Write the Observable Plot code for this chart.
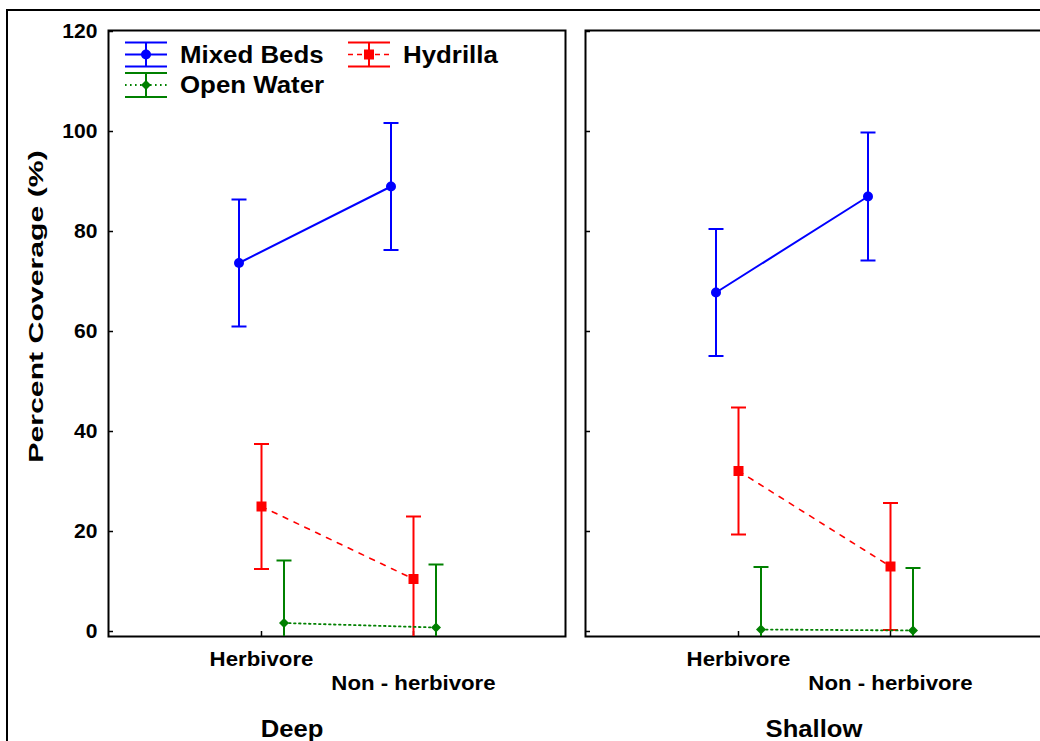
<!DOCTYPE html>
<html><head><meta charset="utf-8">
<script src="https://cdn.jsdelivr.net/npm/d3@7"></script>
<script src="https://cdn.jsdelivr.net/npm/@observablehq/plot@0.6"></script>
<style>
html,body{margin:0;padding:0;background:#fff;}
#wrap{position:relative;width:1040px;height:741px;overflow:hidden;background:#fff;font-family:"Liberation Sans",Arial,sans-serif;}
#chart{position:absolute;left:0;top:0;width:1048px;}
#chart svg{max-width:none !important;}
#legend{position:absolute;left:0;top:0;pointer-events:none;}
#outer{position:absolute;left:6px;top:9px;width:1200px;height:900px;border:2px solid #000;box-sizing:border-box;pointer-events:none;}
</style></head><body>
<div id="wrap"><div id="chart"></div><svg id="legend" width="1040" height="741"></svg><div id="outer"></div></div>
<script>
// ---- data ----
const panels = ["Deep", "Shallow"];
const categories = ["Herbivore", "Non - herbivore"];
const seriesNames = ["Mixed Beds", "Hydrilla", "Open Water"];
const seriesColors = ["#0000ff", "#ff0000", "#008000"];
// order of values: Deep-Herbivore, Deep-Non-herbivore, Shallow-Herbivore, Shallow-Non-herbivore
const mixedBedsMean = [73.7, 89.0, 67.8, 87.0];
const mixedBedsSE   = [12.7, 12.7, 12.7, 12.8];
const hydrillaMean  = [25.0, 10.5, 32.1, 13.0];
const hydrillaSE    = [12.5, 12.5, 12.7, 12.7];
const openWaterMean = [1.7, 0.8, 0.4, 0.2];
const openWaterSE   = [12.5, 12.6, 12.5, 12.5];
const yTicks = [0, 20, 40, 60, 80, 100, 120];
const yLabel = "Percent Coverage (%)";

const means = [mixedBedsMean, hydrillaMean, openWaterMean];
const ses = [mixedBedsSE, hydrillaSE, openWaterSE];

const rows = [];
seriesNames.forEach((s, si) => {
  panels.forEach((p, pi) => categories.forEach((c, ci) => {
    const k = pi * 2 + ci;
    rows.push({series: s, panel: p, cat: c, mean: means[si][k], lo: means[si][k] - ses[si][k], hi: means[si][k] + ses[si][k]});
  }));
});

// ---- symbols ----
const capSym = {draw(ctx, size) { const w = Math.sqrt(size / Math.PI); ctx.moveTo(-w, 0); ctx.lineTo(w, 0); }};
const circleSym = {draw(ctx, size) { const h = Math.sqrt(size / Math.PI); ctx.moveTo(h, 0); ctx.arc(0, 0, h, 0, 2 * Math.PI); }};
const squareSym = {draw(ctx, size) { const h = Math.sqrt(size / Math.PI); ctx.rect(-h, -h, 2 * h, 2 * h); }};
const diamondSym = {draw(ctx, size) { const h = Math.sqrt(size / Math.PI); ctx.moveTo(0, -h); ctx.lineTo(h, 0); ctx.lineTo(0, h); ctx.lineTo(-h, 0); ctx.closePath(); }};

const styles = [
  {dx: -22.5, dash: null, lineWidth: 2, symbol: circleSym, r: 5, legendDash: null},
  {dx: 0, dash: "5,7", lineWidth: 1.6, symbol: squareSym, r: 5, legendDash: "5,4"},
  {dx: 22.5, dash: "1.6,3.4", lineWidth: 1.8, symbol: diamondSym, r: 5, legendDash: "1.6,3.4"}
];

const seriesMarks = [];
seriesNames.forEach((s, si) => {
  const d = rows.filter(r => r.series === s);
  const st = styles[si], col = seriesColors[si];
  seriesMarks.push(
    Plot.line(d, {fx: "panel", x: "cat", y: "mean", stroke: col, strokeWidth: st.lineWidth, strokeDasharray: st.dash, dx: st.dx}),
    Plot.ruleX(d, {fx: "panel", x: "cat", y1: "lo", y2: "hi", stroke: col, strokeWidth: 2, dx: st.dx, clip: true}),
    Plot.dot(d, {fx: "panel", x: "cat", y: "hi", symbol: capSym, r: 7.5, stroke: col, fill: "none", strokeWidth: 2, dx: st.dx, clip: true}),
    Plot.dot(d, {fx: "panel", x: "cat", y: "lo", symbol: capSym, r: 7.5, stroke: col, fill: "none", strokeWidth: 2, dx: st.dx, clip: true}),
    Plot.dot(d, {fx: "panel", x: "cat", y: "mean", symbol: st.symbol, r: st.r, fill: col, stroke: "none", dx: st.dx})
  );
});

const plot = Plot.plot({
  width: 1048, height: 741,
  marginLeft: 108, marginRight: 6, marginTop: 30, marginBottom: 105,
  style: {fontFamily: '"Liberation Sans", Arial, sans-serif', fontWeight: "bold", fontSize: "19.5px", color: "#000", background: "transparent", overflow: "visible", maxWidth: "none"},
  fx: {domain: panels, paddingInner: 20 / 477, paddingOuter: 0, round: false, axis: null},
  x: {domain: categories, type: "point", padding: 1},
  y: {domain: [0, 120], insetBottom: 5, insetTop: 1},
  marks: [
    Plot.frame({stroke: "#000", strokeWidth: 2}),
    Plot.axisY(yTicks, {tickSize: -5, fill: null, facetAnchor: null, strokeWidth: 1.5}),
    Plot.axisY(yTicks, {tickSize: 0, tickPadding: 11, label: null, fontSize: 19.5}),
    Plot.axisX(categories, {tickSize: -5, fill: null, strokeWidth: 1.5}),
    Plot.axisX([categories[0]], {tickSize: 0, tickPadding: 16, label: null, fontSize: 19.5}),
    Plot.axisX([categories[1]], {tickSize: 0, tickPadding: 40, label: null, fontSize: 19.5}),
    Plot.text([panels[0]], {fx: d => d, text: d => d, frameAnchor: "bottom", textAnchor: "middle", lineAnchor: "bottom", dy: 100, dx: -45, fontSize: 23.5}),
    Plot.text([panels[1]], {fx: d => d, text: d => d, frameAnchor: "bottom", textAnchor: "middle", lineAnchor: "bottom", dy: 100, fontSize: 23.5}),
    Plot.text([yLabel], {frameAnchor: "left", textAnchor: "middle", lineAnchor: "middle", rotate: -90, dx: -72, dy: -27, facetAnchor: "left", fontSize: 19.5}),
    ...seriesMarks
  ]
});
document.getElementById("chart").appendChild(plot);

function stretchEl(t, f) {
  const L = t.getComputedTextLength();
  if (L > 0) { t.setAttribute("textLength", L * f); t.setAttribute("lengthAdjust", "spacingAndGlyphs"); }
}
plot.querySelectorAll('g[aria-label="y-axis tick label"] text').forEach(t => stretchEl(t, 1.08));
plot.querySelectorAll('g[aria-label="x-axis tick label"] text').forEach(t => stretchEl(t, 1.14));
plot.querySelectorAll('g[aria-label="text"] text').forEach(t => {
  const s = t.textContent;
  if (s === yLabel) stretchEl(t, 1.55);
  else if (panels.includes(s)) stretchEl(t, 1.09);
});

// ---- legend ----
const legendPos = [[125, 42.5], [348, 42.5], [125, 73]];
const lg = d3.select("#legend");
seriesNames.forEach((name, i) => {
  const col = seriesColors[i], st = styles[i];
  const g = lg.append("g").attr("transform", `translate(${legendPos[i][0]},${legendPos[i][1]})`);
  const w = 42, h = 24;
  g.append("line").attr("x1", 0).attr("x2", w).attr("y1", 0).attr("y2", 0).attr("stroke", col).attr("stroke-width", 2);
  g.append("line").attr("x1", 0).attr("x2", w).attr("y1", h).attr("y2", h).attr("stroke", col).attr("stroke-width", 2);
  g.append("line").attr("x1", w / 2).attr("x2", w / 2).attr("y1", 0).attr("y2", h).attr("stroke", col).attr("stroke-width", 2);
  g.append("line").attr("x1", 0).attr("x2", w).attr("y1", h / 2).attr("y2", h / 2).attr("stroke", col).attr("stroke-width", st.lineWidth).attr("stroke-dasharray", st.legendDash);
  const sym = d3.symbol().type(st.symbol).size(Math.PI * 25);
  g.append("path").attr("d", sym()).attr("transform", `translate(${w / 2},${h / 2})`).attr("fill", col);
  const t = g.append("text").attr("x", 55).attr("y", h / 2 + 8.4).attr("font-size", 23.5).attr("font-weight", "bold")
    .attr("font-family", '"Liberation Sans", Arial, sans-serif').attr("fill", "#000").text(name);
  const node = t.node();
  node.setAttribute("textLength", node.getComputedTextLength() * 1.1);
  node.setAttribute("lengthAdjust", "spacingAndGlyphs");
});
</script>
</body></html>
